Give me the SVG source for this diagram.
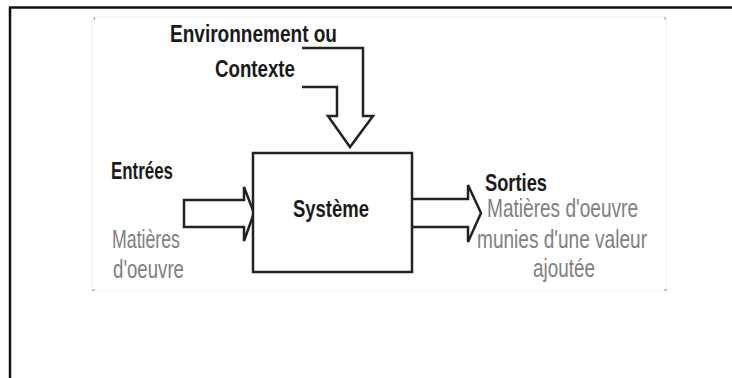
<svg xmlns="http://www.w3.org/2000/svg" width="732" height="378" viewBox="0 0 732 378">
<style>
.frame{stroke:#111;stroke-width:2.5;fill:none}
.arrow{stroke:#222;stroke-width:2.5;fill:#fff;stroke-linejoin:miter}
.box{stroke:#222;stroke-width:2.5;fill:#fff}
.lbl{font-family:"Liberation Sans",Arial,sans-serif;font-weight:bold;font-size:24px;fill:#1a1a1a}
.sub{font-family:"Liberation Sans",Arial,sans-serif;font-size:25px;fill:#808080}
.tick{stroke:#999;stroke-width:1}
</style>
<rect width="732" height="378" fill="#fff"/>
<g id="frame">
<line class="frame" x1="9" y1="7.5" x2="732" y2="7.5"/>
<line class="frame" x1="10" y1="7" x2="10" y2="378"/>
<rect x="92" y="17" width="574" height="274" fill="#fff" stroke="#f5f5f5" stroke-width="1.5"/>
<line class="tick" x1="95" y1="17" x2="94" y2="20"/>
<line class="tick" x1="665" y1="17" x2="665" y2="20"/>
<line class="tick" x1="92" y1="290" x2="95" y2="290"/>
<line class="tick" x1="664" y1="290" x2="667" y2="290"/>
</g>
<g id="connectors">
<path class="arrow" d="M302,48 L363,48 L363,116 L373,116 L350,147 L328,116 L337,116 L337,87 L302,87"/>
<path class="arrow" d="M184,200 L244,200 L244,187 L254,213 L244,241 L244,227 L184,227 Z"/>
<path class="arrow" d="M412,199 L468,199 L468,185 L481,213 L468,242 L468,227 L412,227"/>
</g>
<g id="systeme">
<rect class="box" x="253" y="153" width="159" height="119"/>
<text class="lbl" x="293" y="217" textLength="76" lengthAdjust="spacingAndGlyphs">Système</text>
</g>
<g id="environnement">
<text class="lbl" x="170" y="42" textLength="167" lengthAdjust="spacingAndGlyphs">Environnement ou</text>
<text class="lbl" x="215" y="77" textLength="80" lengthAdjust="spacingAndGlyphs">Contexte</text>
</g>
<g id="entrees">
<text class="lbl" x="111" y="179" textLength="62" lengthAdjust="spacingAndGlyphs">Entrées</text>
<text class="sub" x="112" y="248" textLength="68" lengthAdjust="spacingAndGlyphs">Matières</text>
<text class="sub" x="113" y="278" textLength="71" lengthAdjust="spacingAndGlyphs">d'oeuvre</text>
</g>
<g id="sorties">
<text class="lbl" x="485" y="191" textLength="62" lengthAdjust="spacingAndGlyphs">Sorties</text>
<text class="sub" x="487" y="217" textLength="151" lengthAdjust="spacingAndGlyphs">Matières d'oeuvre</text>
<text class="sub" x="477" y="248" textLength="170" lengthAdjust="spacingAndGlyphs">munies d'une valeur</text>
<text class="sub" x="533" y="277" textLength="62" lengthAdjust="spacingAndGlyphs">ajoutée</text>
</g>
</svg>
